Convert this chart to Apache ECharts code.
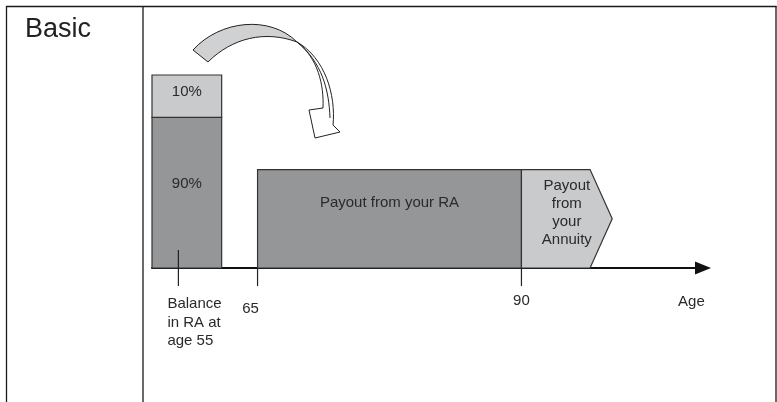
<!DOCTYPE html>
<html>
<head>
<meta charset="utf-8">
<script src="https://cdn.jsdelivr.net/npm/echarts@6/dist/echarts.min.js"></script>
<style>
  html, body { margin: 0; padding: 0; background: #fff; }
  #chart { width: 777px; height: 402px; }
</style>
</head>
<body>
<div id="chart"></div>
<script>
const blockNames = ['90%', '10%', 'Payout from your RA']
const blockFrom = [55, 55, 65]
const blockTo = [61.6, 61.6, 90]
const blockLow = [0, 78, 0]
const blockHigh = [78, 100, 51]

const annuityName = ['Payout\nfrom\nyour\nAnnuity']
const annuityFrom = [90]
const annuityTo = [96.5]
const annuityTip = [98.6]
const annuityHigh = [51]

const tickAges = [57.5, 65, 90, 106.1]
const tickTops = [9.3, 0, 0, 0]
const tickMarks = [true, true, true, false]
const tickLabels = ['Balance\nin RA at\nage 55', '65', '90', 'Age']

const font = '15px "Liberation Sans", Arial, sans-serif'
const textColor = '#2a2a2a'
const blockFill = ['#959698', '#c9cacc', '#959698']
const blockTextDy = [-9, -4, -16]
const tickLabelLayout = [
  { dx: -11, dy: 27, align: 'left' },
  { dx: -7, dy: 32, align: 'center' },
  { dx: 0, dy: 24, align: 'center' },
  { dx: 0, dy: 25, align: 'center' }
]

// curved arrow drawn in pixel space (decoration, not data)
const arrowPaths = [
  { d: 'M297,42 C318,58 324,85 323,108 L309,110 L315,138 L340,132 L333,125 C336,95 325,58 297,42 Z', fill: '#fff' },
  { d: 'M297,42 C322,62 329,90 330,118', fill: 'none' },
  { d: 'M193,50 C220,20 270,15 297,42 C265,30 232,38 208,62 Z', fill: '#d0d1d3' }
]

const chart = echarts.init(document.getElementById('chart'), null, { renderer: 'canvas' })

chart.setOption({
  animation: false,
  grid: { left: 152, right: 74, top: 75, bottom: 134 },
  xAxis: {
    type: 'value',
    min: 55,
    max: 107.2,
    axisLine: {
      show: true,
      symbol: ['none', 'triangle'],
      symbolSize: [13, 16],
      lineStyle: { color: '#111', width: 2 }
    },
    axisTick: { show: false },
    axisLabel: { show: false },
    splitLine: { show: false }
  },
  yAxis: { type: 'value', min: 0, max: 100, show: false },
  graphic: [
    { type: 'line', shape: { x1: 6, y1: 6.5, x2: 776.5, y2: 6.5 }, style: { stroke: '#1a1a1a', lineWidth: 1.3 } },
    { type: 'line', shape: { x1: 6.5, y1: 6, x2: 6.5, y2: 402 }, style: { stroke: '#1a1a1a', lineWidth: 1.3 } },
    { type: 'line', shape: { x1: 143, y1: 6, x2: 143, y2: 402 }, style: { stroke: '#1a1a1a', lineWidth: 1.3 } },
    { type: 'line', shape: { x1: 776, y1: 6, x2: 776, y2: 402 }, style: { stroke: '#1a1a1a', lineWidth: 1.3 } },
    {
      type: 'text', x: 25, y: 16,
      style: { text: 'Basic', font: '27px "Liberation Sans", Arial, sans-serif', fill: '#222' }
    }
  ],
  series: [
    {
      type: 'custom',
      name: 'arrow',
      z: 5,
      silent: true,
      data: [0],
      renderItem() {
        return {
          type: 'group',
          children: arrowPaths.map(p => ({
            type: 'path',
            shape: { pathData: p.d },
            style: { fill: p.fill, stroke: '#222', lineWidth: 1 }
          }))
        }
      }
    },
    {
      type: 'custom',
      name: 'blocks',
      z: 3,
      data: blockNames.map((n, i) => [blockFrom[i], blockTo[i], blockLow[i], blockHigh[i]]),
      renderItem(params, api) {
        const i = params.dataIndex
        const p0 = api.coord([api.value(0), api.value(3)])
        const p1 = api.coord([api.value(1), api.value(2)])
        return {
          type: 'group',
          children: [
            {
              type: 'rect',
              shape: { x: p0[0], y: p0[1], width: p1[0] - p0[0], height: p1[1] - p0[1] },
              style: { fill: blockFill[i], stroke: '#333', lineWidth: 1.2 }
            },
            {
              type: 'text',
              x: (p0[0] + p1[0]) / 2,
              y: (p0[1] + p1[1]) / 2 + blockTextDy[i],
              style: { text: blockNames[i], font, fill: textColor, align: 'center', verticalAlign: 'middle' }
            }
          ]
        }
      }
    },
    {
      type: 'custom',
      name: 'annuity',
      z: 3,
      data: annuityName.map((n, i) => [annuityFrom[i], annuityTo[i], annuityTip[i], annuityHigh[i]]),
      renderItem(params, api) {
        const i = params.dataIndex
        const a = api.coord([api.value(0), api.value(3)])
        const b = api.coord([api.value(1), api.value(3)])
        const c = api.coord([api.value(2), api.value(3) / 2])
        const d = api.coord([api.value(1), 0])
        const e = api.coord([api.value(0), 0])
        return {
          type: 'group',
          children: [
            {
              type: 'polygon',
              shape: { points: [a, b, c, d, e] },
              style: { fill: '#c9cacc', stroke: '#333', lineWidth: 1.2 }
            },
            {
              type: 'text',
              x: (a[0] + c[0]) / 2,
              y: c[1] - 6,
              style: {
                text: annuityName[i], font, fill: textColor,
                align: 'center', verticalAlign: 'middle', lineHeight: 18
              }
            }
          ]
        }
      }
    },
    {
      type: 'custom',
      name: 'ticks',
      z: 4,
      data: tickAges.map((a, i) => [a, tickTops[i]]),
      renderItem(params, api) {
        const i = params.dataIndex
        const top = api.coord([api.value(0), api.value(1)])
        const base = api.coord([api.value(0), 0])
        const lay = tickLabelLayout[i]
        const children = []
        if (tickMarks[i]) {
          children.push({
            type: 'line',
            shape: { x1: top[0], y1: top[1], x2: base[0], y2: base[1] + 18 },
            style: { stroke: '#222', lineWidth: 1.2 }
          })
        }
        children.push({
          type: 'text',
          x: base[0] + lay.dx,
          y: base[1] + lay.dy,
          style: {
            text: tickLabels[i], font, fill: textColor,
            align: lay.align, verticalAlign: 'top', lineHeight: 18.5
          }
        })
        return { type: 'group', children }
      }
    }
  ]
})
</script>
</body>
</html>
